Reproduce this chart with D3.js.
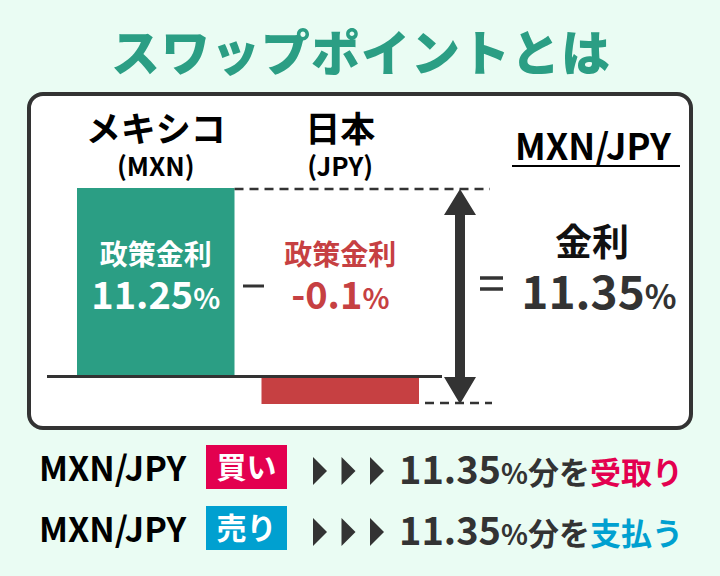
<!DOCTYPE html>
<html><head><meta charset="utf-8">
<script src="https://cdn.jsdelivr.net/npm/d3@7"></script>
<style>
html,body{margin:0;padding:0;background:#eafcf3;}
svg{display:block;font-family:"Noto Sans CJK JP","Noto Sans",sans-serif;}
</style></head><body>
<script>
// ---- data ----
const title = "スワップポイントとは";
const countries = ["メキシコ", "日本"];
const codes = ["MXN", "JPY"];
const rates = [11.25, -0.1];
const rateLabel = "政策金利";
const pair = "MXN/JPY";
const swapLabel = "金利";
const swapRate = 11.35;
const actions = ["買い", "売り"];
const outcomes = ["受取り", "支払う"];

(function () {
const W = 720, H = 576;
const C = {bg:"#eafcf3", green:"#2b9e84", red:"#c64042", dark:"#333333", pink:"#e3004f", blue:"#00a0d0"};

const svg = d3.select("body").append("svg").attr("width", W).attr("height", H);
svg.append("rect").attr("width", W).attr("height", H).attr("fill", C.bg);

// title
svg.append("text").attr("x", 361).attr("y", 71).attr("text-anchor", "middle")
  .attr("font-size", 49).attr("font-weight", 900).attr("fill", C.green)
  .attr("letter-spacing", 1).text(title);

// panel
svg.append("rect").attr("x", 29).attr("y", 94).attr("width", 662).attr("height", 334)
  .attr("rx", 14).attr("fill", "#fff").attr("stroke", C.dark).attr("stroke-width", 4);

// scales
const x = d3.scaleBand().domain(countries).range([77, 419]).paddingInner(0.1463).paddingOuter(0);
const y = d3.scaleSymlog().constant(0.1).domain([d3.min(rates), d3.max(rates)]).range([404, 188]);

const rows = countries.map((c, i) => ({country: c, code: codes[i], rate: rates[i]}));

// bars
svg.selectAll("rect.bar").data(rows).join("rect").attr("class", "bar")
  .attr("x", d => x(d.country)).attr("width", x.bandwidth())
  .attr("y", d => Math.min(y(d.rate), y(0)))
  .attr("height", d => Math.abs(y(d.rate) - y(0)))
  .attr("fill", (d, i) => i === 0 ? C.green : C.red);

// baseline
svg.append("line").attr("x1", 47).attr("x2", 442).attr("y1", y(0)).attr("y2", y(0))
  .attr("stroke", C.dark).attr("stroke-width", 3);

// dashed guides
const yTop = y(d3.max(rates)), yBot = y(d3.min(rates));
svg.append("line").attr("x1", x(countries[0]) + x.bandwidth()).attr("x2", 490)
  .attr("y1", yTop + 1).attr("y2", yTop + 1).attr("stroke", C.dark).attr("stroke-width", 2.5)
  .attr("stroke-dasharray", "9,6");
svg.append("line").attr("x1", x(countries[1]) + x.bandwidth() + 6).attr("x2", 492)
  .attr("y1", yBot - 1).attr("y2", yBot - 1).attr("stroke", C.dark).attr("stroke-width", 2.5)
  .attr("stroke-dasharray", "9,6");

// double arrow
const ax = 460;
const arrow = d3.path();
arrow.moveTo(ax, yTop + 1); arrow.lineTo(ax + 16, yTop + 27); arrow.lineTo(ax + 5, yTop + 27);
arrow.lineTo(ax + 5, yBot - 27); arrow.lineTo(ax + 16, yBot - 27); arrow.lineTo(ax, yBot);
arrow.lineTo(ax - 16, yBot - 27); arrow.lineTo(ax - 5, yBot - 27); arrow.lineTo(ax - 5, yTop + 27);
arrow.lineTo(ax - 16, yTop + 27); arrow.closePath();
svg.append("path").attr("d", arrow.toString()).attr("fill", C.dark);

// country labels
rows.forEach((d, i) => {
  const cx = x(d.country) + x.bandwidth() / 2;
  svg.append("text").attr("x", cx).attr("y", 142).attr("text-anchor", "middle")
    .attr("font-size", 35).attr("font-weight", 700).attr("fill", "#000").text(d.country);
  svg.append("text").attr("x", cx).attr("y", 176).attr("text-anchor", "middle")
    .attr("font-size", 26).attr("font-weight", 700).attr("fill", "#000").text("(" + d.code + ")");
  const col = i === 0 ? "#fff" : C.red;
  svg.append("text").attr("x", cx).attr("y", 265).attr("text-anchor", "middle")
    .attr("font-size", 28).attr("font-weight", 700).attr("fill", col).text(rateLabel);
  const t = svg.append("text").attr("x", cx).attr("y", 309).attr("text-anchor", "middle")
    .attr("font-weight", 700).attr("fill", col);
  t.append("tspan").attr("font-size", 38).text(d.rate);
  t.append("tspan").attr("font-size", 28).text("%");
});

// minus sign between
svg.append("line").attr("x1", 243).attr("x2", 264).attr("y1", 286).attr("y2", 286)
  .attr("stroke", C.dark).attr("stroke-width", 3);
// equals sign
[278, 289].forEach(yy => svg.append("line").attr("x1", 480).attr("x2", 503)
  .attr("y1", yy).attr("y2", yy).attr("stroke", C.dark).attr("stroke-width", 3.5));

// pair header
svg.append("text").attr("x", 593).attr("y", 160).attr("text-anchor", "middle")
  .attr("font-size", 36).attr("font-weight", 700).attr("fill", "#000").text(pair);
svg.append("line").attr("x1", 512).attr("x2", 680).attr("y1", 166).attr("y2", 166)
  .attr("stroke", "#000").attr("stroke-width", 2);

svg.append("text").attr("x", 592).attr("y", 256).attr("text-anchor", "middle")
  .attr("font-size", 37).attr("font-weight", 700).attr("fill", "#111").text(swapLabel);
const st = svg.append("text").attr("x", 599).attr("y", 309).attr("text-anchor", "middle")
  .attr("font-weight", 700).attr("fill", C.dark);
st.append("tspan").attr("font-size", 46).text(swapRate);
st.append("tspan").attr("font-size", 33).text("%");

// bottom rows
const rowY = [467, 528];
actions.forEach((a, i) => {
  const cy = rowY[i];
  const col = i === 0 ? C.pink : C.blue;
  svg.append("text").attr("x", 39).attr("y", cy + 14).attr("font-size", 34)
    .attr("font-weight", 700).attr("fill", "#000").text(pair);
  svg.append("rect").attr("x", 206).attr("y", cy - 22).attr("width", 81).attr("height", 44).attr("fill", col);
  svg.append("text").attr("x", 246.5).attr("y", cy + 11).attr("text-anchor", "middle")
    .attr("font-size", 30).attr("font-weight", 700).attr("fill", "#fff").text(a);
  [313, 341.5, 370].forEach(tx => {
    svg.append("path").attr("d", `M${tx},${cy - 10} L${tx + 14},${cy + 4} L${tx},${cy + 18} Z`).attr("fill", C.dark);
  });
  const t = svg.append("text").attr("x", 399).attr("y", cy + 17).attr("font-weight", 700).attr("fill", C.dark);
  t.append("tspan").attr("font-size", 38).text(swapRate);
  t.append("tspan").attr("font-size", 28).text("%");
  t.append("tspan").attr("font-size", 31).text("分を");
  t.append("tspan").attr("font-size", 31).attr("fill", col).text(outcomes[i]);
});
})();
</script>
</body></html>
